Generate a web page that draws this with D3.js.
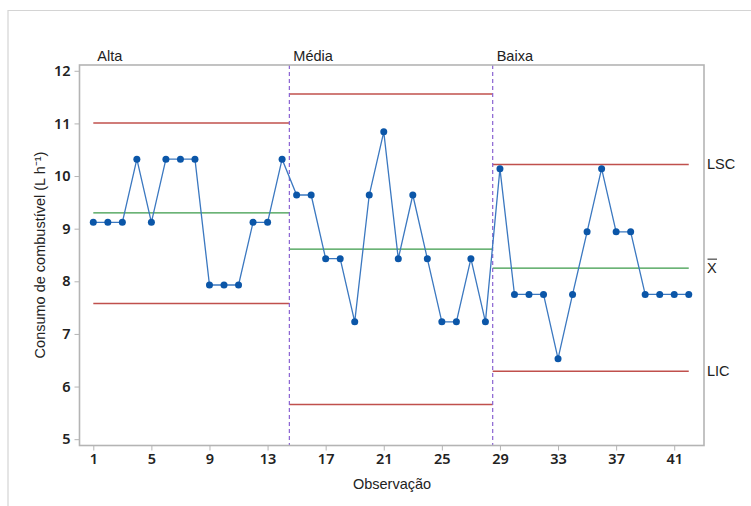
<!DOCTYPE html>
<html lang="pt">
<head>
<meta charset="UTF-8">
<title>Carta de controle</title>
<style>
    body { margin: 0; background: #fff; }
    .tick text { font-family: "Noto Sans", sans-serif; font-weight: 600; font-size: 14.5px; fill: #222; }
    .lbl { font-family: "Liberation Sans", Arial, sans-serif; font-size: 14.5px; fill: #222; }
</style>
</head>
<body>
<svg id="chart" width="751" height="506"></svg>
<script src="https://cdn.jsdelivr.net/npm/d3@7"></script>
<script>

    // consumption per observation, 14 obs per stage
    let alta  = [9.12, 9.12, 9.12, 10.32, 9.12, 10.32, 10.32, 10.32, 7.93, 7.93, 7.93, 9.12, 9.12, 10.32]
    let media = [9.64, 9.64, 8.43, 8.43, 7.23, 9.64, 10.84, 8.43, 9.64, 8.43, 7.23, 7.23, 8.43, 7.23]
    let baixa = [10.14, 7.75, 7.75, 7.75, 6.53, 7.75, 8.94, 10.14, 8.94, 8.94, 7.75, 7.75, 7.75, 7.75]

    let stages = ["Alta", "Média", "Baixa"]
    let lsc = [11.01, 11.56, 10.22]
    let media_x = [9.30, 8.61, 8.25]
    let lic = [7.58, 5.66, 6.29]

    let xTicks = [1, 5, 9, 13, 17, 21, 25, 29, 33, 37, 41]
    let yTicks = [5, 6, 7, 8, 9, 10, 11, 12]

    let svg = d3.select("#chart")

    // light outer border
    svg.append("path")
        .attr("d", "M8,506 V10.5 H751")
        .attr("fill", "none")
        .attr("stroke", "#d4d4d4")
        .attr("stroke-width", 1.2)

    let x = d3.scaleLinear().domain([0.05, 43.05]).range([79.5, 704])
    let y = d3.scaleLinear().domain([4.88, 12.11]).range([445.5, 65])

    let series = [alta, media, baixa]
    let data = []
    series.forEach((s, i) => s.forEach((v, j) => data.push({ obs: i * 14 + j + 1, v: v })))

    // limits: [start, end] in observation units
    let spans = [[1, 14.5], [14.5, 28.5], [28.5, 42]]

    let g = svg.append("g")

    spans.forEach((sp, i) => {
        g.append("line")
            .attr("x1", x(sp[0])).attr("x2", x(sp[1]))
            .attr("y1", y(lsc[i])).attr("y2", y(lsc[i]))
            .attr("stroke", "#c0504d").attr("stroke-width", 1.5)
        g.append("line")
            .attr("x1", x(sp[0])).attr("x2", x(sp[1]))
            .attr("y1", y(lic[i])).attr("y2", y(lic[i]))
            .attr("stroke", "#c0504d").attr("stroke-width", 1.5)
        g.append("line")
            .attr("x1", x(sp[0])).attr("x2", x(sp[1]))
            .attr("y1", y(media_x[i])).attr("y2", y(media_x[i]))
            .attr("stroke", "#3a9a48").attr("stroke-width", 1.3)
    })

    // stage dividers
    ;[14.5, 28.5].forEach(b => {
        g.append("line")
            .attr("x1", x(b)).attr("x2", x(b))
            .attr("y1", 65).attr("y2", 445.5)
            .attr("stroke", "#8a63d2").attr("stroke-width", 1.2)
            .attr("stroke-dasharray", "4,3")
    })

    // series
    let line = d3.line().x(d => x(d.obs)).y(d => y(d.v))
    g.append("path")
        .datum(data)
        .attr("d", line)
        .attr("fill", "none")
        .attr("stroke", "#3b78c0")
        .attr("stroke-width", 1.3)

    g.selectAll("circle")
        .data(data)
        .enter()
        .append("circle")
        .attr("cx", d => x(d.obs))
        .attr("cy", d => y(d.v))
        .attr("r", 3.5)
        .attr("fill", "#0b56a8")

    // frame
    svg.append("rect")
        .attr("x", 79.5).attr("y", 65)
        .attr("width", 704 - 79.5).attr("height", 445.5 - 65)
        .attr("fill", "none")
        .attr("stroke", "#b4b4b4")
        .attr("stroke-width", 1.6)

    // axes
    let xAxis = d3.axisBottom(x).tickValues(xTicks).tickSize(5).tickPadding(3)
    svg.append("g")
        .attr("transform", "translate(0,445.5)")
        .call(xAxis)
        .call(a => a.select(".domain").remove())
        .call(a => a.selectAll(".tick line").attr("stroke", "#b4b4b4"))

    let yAxis = d3.axisLeft(y).tickValues(yTicks).tickSize(5).tickPadding(4)
    svg.append("g")
        .attr("transform", "translate(79.5,0)")
        .call(yAxis)
        .call(a => a.select(".domain").remove())
        .call(a => a.selectAll(".tick line").attr("stroke", "#b4b4b4"))

    // stage labels
    let stageX = [1, 14.5, 28.5]
    stages.forEach((s, i) => {
        svg.append("text")
            .attr("class", "lbl")
            .attr("x", x(stageX[i]) + 4)
            .attr("y", 61)
            .text(s)
    })

    // right labels
    let last = lsc.length - 1
    svg.append("text").attr("class", "lbl")
        .attr("x", 707).attr("y", y(lsc[last]) + 5).text("LSC")
    svg.append("text").attr("class", "lbl")
        .attr("x", 707).attr("y", y(media_x[last]) + 5).text("X")
    svg.append("line")
        .attr("x1", 707.5).attr("x2", 717)
        .attr("y1", y(media_x[last]) - 9).attr("y2", y(media_x[last]) - 9)
        .attr("stroke", "#222").attr("stroke-width", 1)
    svg.append("text").attr("class", "lbl")
        .attr("x", 707).attr("y", y(lic[last]) + 5).text("LIC")

    // axis titles
    svg.append("text").attr("class", "lbl")
        .attr("text-anchor", "middle")
        .attr("x", 392).attr("y", 489)
        .text("Observação")

    svg.append("text").attr("class", "lbl")
        .attr("text-anchor", "middle")
        .attr("transform", "translate(45,255) rotate(-90)")
        .text("Consumo de combustível (L h⁻¹)")

</script>
</body>
</html>
